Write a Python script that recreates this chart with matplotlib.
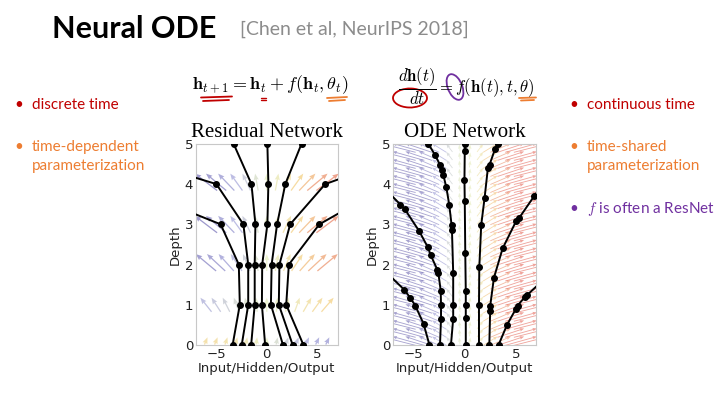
import numpy as np
import matplotlib
matplotlib.use('Agg')
import matplotlib.pyplot as plt
from matplotlib.colors import LinearSegmentedColormap, Normalize
from matplotlib.patches import Ellipse
from matplotlib.lines import Line2D

plt.rcParams['mathtext.fontset'] = 'cm'

# --- Residual network: hidden value at depth 0..5 for each input
res_depth = [0, 1, 2, 3, 4, 5]
res_paths = [
    [-3.37, -2.66, -2.76, -4.55, -14.5],
    [-2.47, -1.83, -1.83, -2.31, -4.97, -18.0],
    [-1.54, -1.19, -1.19, -1.12, -1.51, -3.27],
    [-0.16, -0.48, -0.45, 0.06, 0.16, 0.06],
    [1.60, 0.41, 0.48, 1.02, 1.83, 3.43],
    [2.56, 1.19, 1.25, 2.31, 5.77, 16.8],
    [3.62, 1.92, 2.18, 5.19, 12.2],
]

# --- ODE network: (hidden value, depth) at solver evaluation points
ode_paths = [
    ([-3.45, -4.03, -4.84, -5.32, -5.90, -7.40],
     [0.0, 0.53, 0.98, 1.17, 1.37, 1.74]),
    ([-2.42, -2.32, -2.32, -2.35, -2.58, -2.68, -3.32, -3.61, -4.45, -5.87, -6.29, -7.40],
     [0.0, 0.65, 1.00, 1.35, 1.79, 1.87, 2.23, 2.43, 2.83, 3.38, 3.49, 3.78]),
    ([-1.35, -1.13, -1.13, -1.13, -1.25, -1.29, -1.52, -1.80, -2.10, -2.26, -2.42, -2.90, -3.55],
     [0.0, 0.65, 1.00, 1.79, 2.85, 2.99, 3.49, 3.92, 4.23, 4.36, 4.48, 4.72, 5.0]),
    ([0.10, 0.10, 0.10, 0.10, 0.05, 0.00, -0.03, 0.00, 0.00],
     [0.0, 0.68, 1.00, 1.33, 2.29, 3.57, 4.11, 4.83, 5.0]),
    ([1.39, 1.39, 1.42, 1.61, 1.94, 2.26, 2.42, 2.97, 3.23],
     [0.0, 1.00, 1.93, 2.99, 3.66, 4.40, 4.48, 4.88, 5.0]),
    ([2.40, 2.48, 2.48, 2.85, 3.70, 5.00, 5.32, 6.78, 7.40],
     [0.0, 0.84, 0.96, 1.67, 2.40, 3.07, 3.16, 3.70, 3.92]),
    ([3.30, 4.13, 5.00, 5.16, 5.87, 6.13, 7.40],
     [0.0, 0.50, 0.90, 0.98, 1.19, 1.25, 1.55]),
]

# --- background vector fields
res_arrow_x = [-6, -5, -4, -3, -2, -1, 0, 1, 2, 3, 4, 5, 6]
res_arrow_rows = [0.1, 1.0, 2.05, 3.0, 4.05]
res_arrow_u = [
    [0.30, 0.30, 0.25, 0.20, 0.15, 0.10, 0.05, 0.15, 0.25, 0.30, 0.35, 0.35, 0.35],
    [-1.1, -0.9, -0.7, -0.5, -0.3, -0.1, 0.0, 0.1, 0.3, 0.5, 0.8, 1.0, 1.2],
    [-2.0, -1.8, -1.5, -1.1, -0.7, -0.3, 0.0, 0.3, 0.7, 1.1, 1.5, 1.8, 2.0],
    [-2.2, -2.0, -1.6, -1.2, -0.8, -0.3, 0.0, 0.3, 0.8, 1.2, 1.6, 2.0, 2.2],
    [-2.2, -2.0, -1.6, -1.2, -0.8, -0.3, 0.0, 0.3, 0.8, 1.2, 1.6, 2.0, 2.2],
]
res_arrow_v = [0.18, 0.35, 0.42, 0.42, 0.42]
res_arrow_tone = [
    [0.9, 0.9, 0.8, 0.7, 0.5, 0.3, 0.0, -0.4, -0.7, -1.0, -1.2, -1.4, -1.5],
    [-1.1, -0.9, -0.7, -0.5, -0.3, -0.1, 0.0, 0.1, 0.3, 0.5, 0.8, 1.0, 1.2],
    [-2.0, -1.8, -1.5, -1.1, -0.7, -0.3, 0.0, 0.3, 0.7, 1.1, 1.5, 1.8, 2.0],
    [-2.2, -2.0, -1.6, -1.2, -0.8, -0.3, 0.0, 0.3, 0.8, 1.2, 1.6, 2.0, 2.2],
    [-2.2, -2.0, -1.6, -1.2, -0.8, -0.3, 0.0, 0.3, 0.8, 1.2, 1.6, 2.0, 2.2],
]

ode_arrow_x = [-6.5, -5.5, -4.5, -3.5, -2.5, -1.5, -0.5, 0.5, 1.5, 2.5, 3.5, 4.5, 5.5, 6.5]
ode_arrow_u = [-3.4, -3.1, -2.6, -2.0, -1.4, -0.6, -0.08, 0.08, 0.6, 1.4, 2.0, 2.6, 3.1, 3.4]
ode_arrow_v = [0.22, 0.22, 0.22, 0.22, 0.22, 0.2, 0.17, 0.17, 0.2, 0.22, 0.22, 0.22, 0.22, 0.22]
ode_arrow_rows = [0.1, 0.3, 0.5, 0.7, 0.9, 1.1, 1.3, 1.5, 1.7, 1.9, 2.1, 2.3, 2.5,
                  2.7, 2.9, 3.1, 3.3, 3.5, 3.7, 3.9, 4.1, 4.3, 4.5, 4.7, 4.9]

field_cmap = LinearSegmentedColormap.from_list(
    'field', ['#4f46a0', '#8e8fd2', '#dfeab0', '#f2c462', '#e04a3a'])
field_norm = Normalize(-2.5, 2.5)

RED = '#c00000'
ORANGE = '#ed7d31'
PURPLE = '#7030a0'

fig = plt.figure(figsize=(7.2, 4.03), dpi=100)
fig.patch.set_facecolor('white')


def px(x, y):
    return x / 720, 1 - y / 403


def style_axes(ax, title):
    ax.set_xlim(-7, 7)
    ax.set_ylim(0, 5)
    ax.set_xticks([-5, 0, 5])
    ax.set_yticks([0, 1, 2, 3, 4, 5])
    ax.tick_params(length=0, labelsize=9.5, pad=2, colors='#222222')
    for s in ax.spines.values():
        s.set_color('#c8c8c8')
        s.set_linewidth(0.8)
    ax.set_xlabel('Input/Hidden/Output', fontsize=9.5, labelpad=1, color='#222222')
    ax.set_ylabel('Depth', fontsize=9.5, labelpad=2, color='#222222')
    ax.set_title(title, family='Liberation Serif', fontsize=15, pad=5)


# Residual network panel
ax1 = fig.add_axes([0.272, 0.144, 0.197, 0.499])
X, Y = np.meshgrid(res_arrow_x, res_arrow_rows)
U = np.array(res_arrow_u)
V = np.repeat(np.array(res_arrow_v)[:, None], len(res_arrow_x), axis=1)
C = np.array(res_arrow_tone)
ax1.quiver(X, Y, U, V, C, cmap=field_cmap, norm=field_norm, alpha=0.6,
           angles='xy', scale_units='xy', scale=1, pivot='mid',
           width=0.009, headwidth=4, headlength=5, headaxislength=4.5, zorder=1)
for path in res_paths:
    ax1.plot(path, res_depth[:len(path)], color='black', lw=1.4,
             marker='o', ms=4, zorder=3)
style_axes(ax1, 'Residual Network')

# ODE network panel
ax2 = fig.add_axes([0.546, 0.144, 0.199, 0.499])
X, Y = np.meshgrid(ode_arrow_x, ode_arrow_rows)
U = np.tile(ode_arrow_u, (len(ode_arrow_rows), 1))
V = np.tile(ode_arrow_v, (len(ode_arrow_rows), 1))
ax2.quiver(X, Y, U, V, U, cmap=field_cmap, norm=field_norm, alpha=0.5,
           angles='xy', scale_units='xy', scale=1, pivot='mid',
           width=0.006, headwidth=4, headlength=5, headaxislength=4.5, zorder=1)
for xs, ds in ode_paths:
    ax2.plot(xs, ds, color='black', lw=1.4, marker='o', ms=4, zorder=3)
style_axes(ax2, 'ODE Network')

# Title and citation
fig.text(*px(52, 29), 'Neural ODE', family='Lato', weight='bold', fontsize=22,
         va='center', ha='left')
fig.text(*px(240, 29), '[Chen et al, NeurIPS 2018]', family='Lato', fontsize=14,
         color='#8c8c8c', va='center', ha='left')

# Equations
fig.text(*px(270, 85), r'$\mathbf{h}_{t+1} = \mathbf{h}_t + f(\mathbf{h}_t, \theta_t)$',
         fontsize=13, ha='center', va='center')
fig.text(*px(466, 86), r'$\dfrac{d\mathbf{h}(t)}{dt} = f(\mathbf{h}(t), t, \theta)$',
         fontsize=12, ha='center', va='center')


# hand-drawn marks on the equations
def stroke(xs, ys, color, lw=1.3):
    fx = [x / 720 for x in xs]
    fy = [1 - y / 403 for y in ys]
    fig.add_artist(Line2D(fx, fy, color=color, lw=lw, solid_capstyle='round'))


stroke([201, 232], [97.5, 96.5], RED)
stroke([203, 229], [101, 100], RED)
stroke([261, 266], [97.5, 97.5], RED, 1.0)
stroke([261, 266], [99.5, 99.5], RED, 1.0)
stroke([327, 347], [98, 97], ORANGE)
stroke([329, 345], [101, 100], ORANGE)
stroke([519, 536], [98, 97.5], ORANGE)
stroke([521, 534], [100.5, 100], ORANGE)
fig.add_artist(Ellipse(px(410, 98), 34 / 720, 19 / 403, angle=-5, fill=False,
                       edgecolor=RED, lw=1.3))
fig.add_artist(Ellipse(px(455, 87), 15 / 720, 26 / 403, angle=10, fill=False,
                       edgecolor=PURPLE, lw=1.3))

# Bullet text
bullet_font = dict(family='Lato', fontsize=11, va='center', ha='left')
fig.text(*px(14, 105), '\u2022', color=RED, **bullet_font)
fig.text(*px(32, 105), 'discrete time', color=RED, **bullet_font)
fig.text(*px(14, 147), '\u2022', color=ORANGE, **bullet_font)
fig.text(*px(32, 147), 'time-dependent', color=ORANGE, **bullet_font)
fig.text(*px(32, 166), 'parameterization', color=ORANGE, **bullet_font)

fig.text(*px(569, 105), '\u2022', color=RED, **bullet_font)
fig.text(*px(587, 105), 'continuous time', color=RED, **bullet_font)
fig.text(*px(569, 147), '\u2022', color=ORANGE, **bullet_font)
fig.text(*px(587, 147), 'time-shared', color=ORANGE, **bullet_font)
fig.text(*px(587, 166), 'parameterization', color=ORANGE, **bullet_font)
fig.text(*px(569, 209), '\u2022', color=PURPLE, **bullet_font)
fig.text(*px(587, 209), r'$f$ is often a ResNet', color=PURPLE, **bullet_font)

fig.savefig('out.png', dpi=100, facecolor='white')
